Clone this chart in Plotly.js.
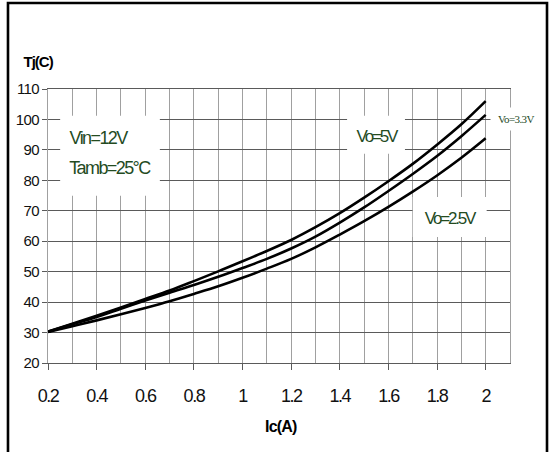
<!DOCTYPE html>
<html>
<head>
<meta charset="utf-8">
<script src="https://cdn.plot.ly/plotly-3.0.1.min.js"></script>
<style>
  html, body { margin: 0; padding: 0; background: #fff; }
  #chart { width: 550px; height: 452px; }
  #chart .xtick text { letter-spacing: -1.5px; }
  #chart .ytick text { letter-spacing: -0.6px; }
  #chart g.annotation[data-index="0"] text { letter-spacing: -1px; }
  #chart g.annotation[data-index="1"] text { letter-spacing: -0.8px; }
  #chart g.annotation[data-index="2"] text,
  #chart g.annotation[data-index="3"] text { letter-spacing: -1.6px; }
  #chart g.annotation[data-index="4"] text,
  #chart g.annotation[data-index="5"] text { letter-spacing: -2.2px; }
  #chart g.annotation[data-index="6"] text { letter-spacing: -0.6px; }
</style>
</head>
<body>
<div id="chart"></div>
<script>
// Output current Ic (A)
const current = [0.2, 0.3, 0.4, 0.5, 0.6, 0.7, 0.8, 0.9, 1.0, 1.1, 1.2, 1.3, 1.4, 1.5, 1.6, 1.7, 1.8, 1.9, 2.0];
// Junction temperature Tj (°C) per output voltage
const tjVo5V  = [30.3, 32.9, 35.5, 38.2, 41.0, 43.8, 46.9, 50.1, 53.4, 56.8, 60.4, 64.6, 69.2, 74.3, 79.7, 85.4, 91.7, 98.4, 106.0];
const tjVo33V = [30.3, 32.7, 35.1, 37.8, 40.5, 43.1, 45.6, 48.3, 51.2, 54.2, 57.6, 61.5, 66.1, 71.1, 76.5, 82.1, 88.0, 94.5, 101.5];
const tjVo25V = [30.2, 32.1, 34.0, 36.0, 38.1, 40.3, 42.7, 45.2, 48.0, 51.0, 54.2, 58.0, 62.2, 66.6, 71.3, 76.3, 81.6, 87.4, 93.8];
const seriesNames = ["Vo=5V", "Vo=3.3V", "Vo=2.5V"];
const xTitle = "Ic(A)";
const yTitle = "Tj(C)";
const condLines = ["Vin=12V", "Tamb=25°C"];

const green = "#244b1f";
const lineStyle = {color: "#000", width: 2.6, shape: "spline", smoothing: 1};

const traces = [tjVo5V, tjVo33V, tjVo25V].map((ys, i) => ({
  type: "scatter", mode: "lines", x: current, y: ys, name: seriesNames[i],
  line: lineStyle, hoverinfo: "skip"
}));

const sans = "'Liberation Sans', Arial, sans-serif";

const layout = {
  width: 550, height: 452,
  margin: {l: 48, r: 40, t: 89, b: 89},
  paper_bgcolor: "#fff", plot_bgcolor: "#fff",
  showlegend: false,
  xaxis: {
    range: [0.2, 2.1], tick0: 0.2, dtick: 0.2,
    showgrid: true, gridcolor: "#a0a0a0", gridwidth: 1,
    minor: {dtick: 0.1, tick0: 0.1, showgrid: true, gridcolor: "#a0a0a0", gridwidth: 1, ticks: ""},
    showline: true, mirror: true, linecolor: "#5a5a5a", linewidth: 1,
    ticks: "outside", ticklen: 6, tickcolor: "#5a5a5a", tickwidth: 1,
    ticklabelstandoff: 10,
    tickfont: {family: sans, size: 18, color: "#111"},
    zeroline: false
  },
  yaxis: {
    range: [20, 110], tick0: 20, dtick: 10,
    showgrid: true, gridcolor: "#5a5a5a", gridwidth: 1,
    showline: true, mirror: true, linecolor: "#a0a0a0", linewidth: 1,
    ticks: "outside", ticklen: 5, tickcolor: "#5a5a5a", tickwidth: 1,
    tickfont: {family: sans, size: 15, color: "#111"},
    zeroline: false
  },
  shapes: [
    // white boxes behind labels (cover the grid)
    {type: "rect", xref: "x", yref: "y", x0: 0.25, x1: 0.66, y0: 74.9, y1: 101.2, fillcolor: "#fff", line: {width: 0}, layer: "between"},
    {type: "rect", xref: "x", yref: "y", x0: 1.43, x1: 1.668, y0: 88.7, y1: 101.2, fillcolor: "#fff", line: {width: 0}, layer: "between"},
    {type: "rect", xref: "x", yref: "y", x0: 1.70, x1: 2.004, y0: 61.4, y1: 74.5, fillcolor: "#fff", line: {width: 0}, layer: "between"},
    // outer frame
    {type: "rect", xref: "paper", yref: "paper", x0: -0.0866, x1: 1.0801, y0: -0.40, y1: 1.3139, fillcolor: "rgba(0,0,0,0)", line: {color: "#000", width: 2.6}, layer: "above"}
  ],
  annotations: [
    {xref: "paper", yref: "paper", x: -0.0216, y: 1.1004, text: "<b>" + yTitle + "</b>", showarrow: false,
     font: {family: sans, size: 15, color: "#000"}, xanchor: "center", yanchor: "middle"},
    {xref: "paper", yref: "paper", x: 0.504, y: -0.23, text: "<b>" + xTitle + "</b>", showarrow: false,
     font: {family: sans, size: 16, color: "#000"}, xanchor: "center", yanchor: "middle"},
    {xref: "x", yref: "y", x: 0.4066, y: 93.8, text: condLines[0], showarrow: false,
     font: {family: sans, size: 18, color: green}, xanchor: "center", yanchor: "middle"},
    {xref: "x", yref: "y", x: 0.452, y: 84.0, text: condLines[1], showarrow: false,
     font: {family: sans, size: 18, color: green}, xanchor: "center", yanchor: "middle"},
    {xref: "x", yref: "y", x: 1.551, y: 94.3, text: seriesNames[0], showarrow: false,
     font: {family: sans, size: 17, color: green}, xanchor: "center", yanchor: "middle"},
    {xref: "x", yref: "y", x: 1.852, y: 67.5, text: seriesNames[2], showarrow: false,
     font: {family: sans, size: 17, color: green}, xanchor: "center", yanchor: "middle"},
    {xref: "paper", yref: "paper", x: 1.014, y: 0.890, text: seriesNames[1], showarrow: false,
     font: {family: "'Liberation Serif', 'Times New Roman', serif", size: 11, color: green},
     xanchor: "center", yanchor: "middle", bgcolor: "#fff", borderpad: 5}
  ]
};

Plotly.newPlot("chart", traces, layout, {staticPlot: true, displayModeBar: false});
</script>
</body>
</html>
